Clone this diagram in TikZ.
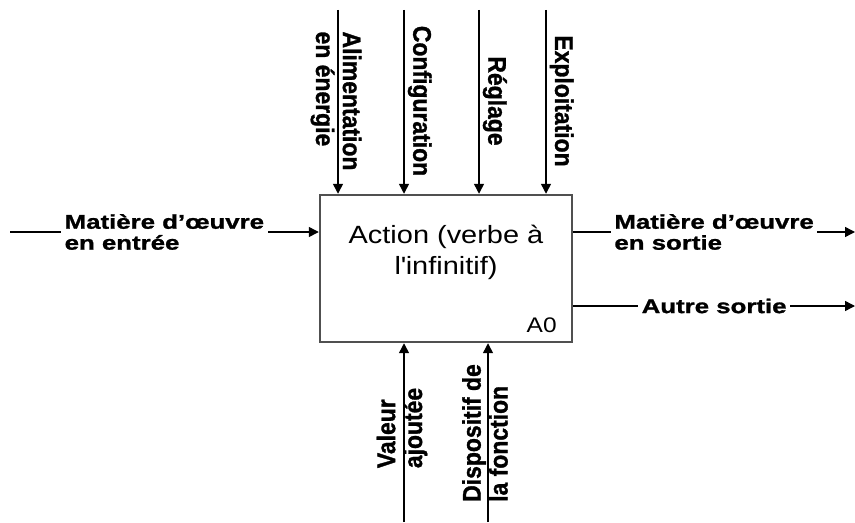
\documentclass[tikz,border=0pt]{standalone}
\usepackage{fontspec}
\setmainfont{Liberation Sans}
\newfontfamily\boxfont[FakeStretch=1.16]{Liberation Sans}
\newfontfamily\lblfont[FakeStretch=1.3,BoldFeatures={FakeBold=1.2}]{Liberation Sans}
\newfontfamily\vlblfont[FakeStretch=0.9,BoldFeatures={FakeBold=1.2}]{Liberation Sans}
\usetikzlibrary{arrows.meta}
\definecolor{ink}{HTML}{000000}
\definecolor{frame}{HTML}{505050}

\begin{document}
\begin{tikzpicture}[>={Triangle[length=2mm,width=2mm]},
  flow/.style={->,ink,line width=.8pt},
  hlbl/.style={font=\lblfont\bfseries\fontsize{11.3}{11.9}\selectfont,
    fill=white,align=left,inner sep=2pt},
  vlbl/.style={font=\vlblfont\bfseries\fontsize{14.5}{15.3}\selectfont,
    align=left,inner sep=0pt}]
  \useasboundingbox (0,0) rectangle (17.1,10.44);
  % the activity box
  \node[draw=frame,line width=1.4pt,minimum width=5.04cm,
    minimum height=2.94cm] (act) at (8.92,5.07) {};
  \node[font=\boxfont\fontsize{14.2}{17.6}\selectfont,align=center]
    (actname) at (8.92,5.39) {Action (verbe à\\l\textquotesingle infinitif)};
  \node[font=\boxfont\fontsize{12}{14}\selectfont,inner sep=0pt,
    anchor=south east] (code) at (11.14,3.78) {A0};
  % controls from the top
  \coordinate (ali) at (6.76,10.24);
  \coordinate (cfg) at (8.08,10.24);
  \coordinate (reg) at (9.58,10.24);
  \coordinate (expl) at (10.92,10.24);
  \draw[flow] (ali) -- (ali |- act.north);
  \draw[flow] (cfg) -- (cfg |- act.north);
  \draw[flow] (reg) -- (reg |- act.north);
  \draw[flow] (expl) -- (expl |- act.north);
  \node[vlbl,rotate=-90] (alilbl) at (6.72,8.42) {Alimentation\\en énergie};
  \node[vlbl,rotate=-90,anchor=south] (cfglbl) at (8.15,8.42) {Configuration};
  \node[vlbl,rotate=-90,anchor=south] (reglbl) at (9.65,8.42) {Réglage};
  \node[vlbl,rotate=-90,anchor=south] (expllbl) at (10.99,8.42) {Exploitation};
  % mechanisms from the bottom
  \coordinate (val) at (8.08,0);
  \coordinate (disp) at (9.76,0);
  \draw[flow] (val) -- (val |- act.south);
  \draw[flow] (disp) -- (disp |- act.south);
  \node[vlbl,rotate=90] (vallbl) at (8.04,1.88) {Valeur\\ajoutée};
  \node[vlbl,rotate=90] (displbl) at (9.7,1.78) {Dispositif de\\la fonction};
  % input and outputs
  \coordinate (in) at (0.2,5.8);
  \coordinate (out) at (17.1,5.8);
  \coordinate (other) at (17.1,4.32);
  \draw[flow] (in) -- node[hlbl] (inlbl)
    {Matière d’œuvre\\en entrée} (in -| act.west);
  \draw[flow] (out -| act.east) -- node[hlbl] (outlbl)
    {Matière d’œuvre\\ en sortie} (out);
  \draw[flow] (other -| act.east) -- node[hlbl] (otherlbl)
    {Autre sortie} (other);
\end{tikzpicture}
\end{document}
